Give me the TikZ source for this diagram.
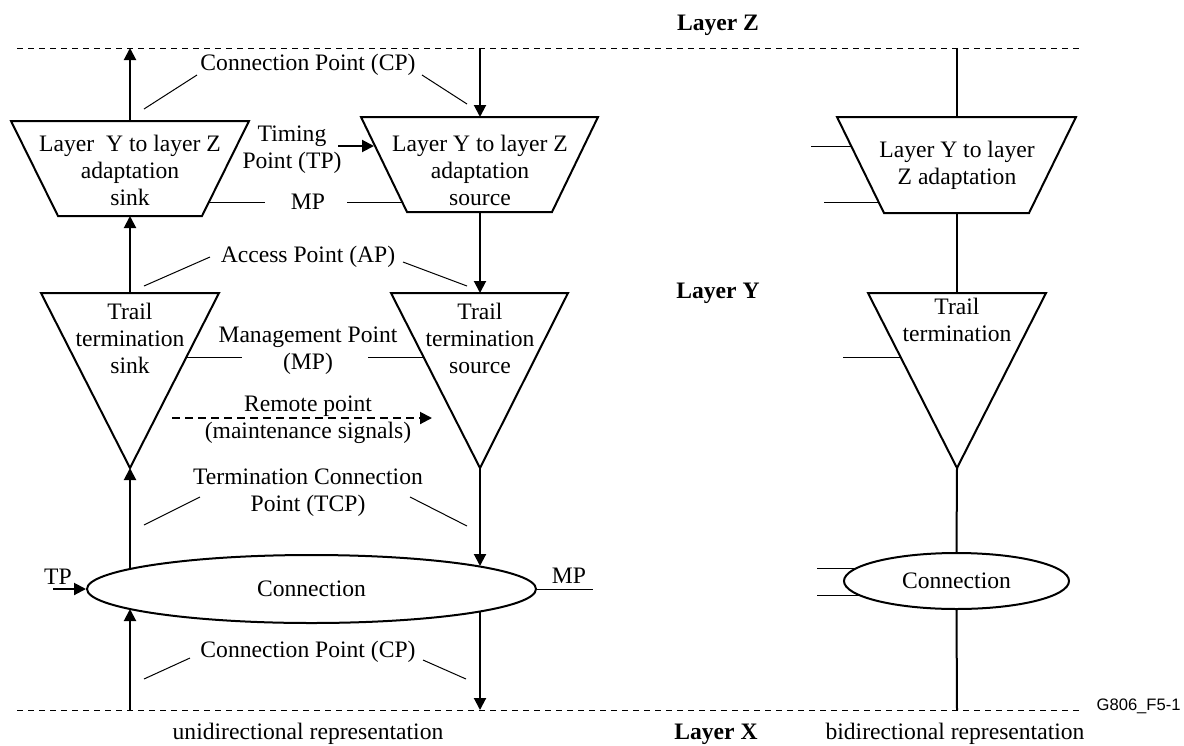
\documentclass[tikz,border=0pt]{standalone}
\usepackage{fontspec}
\setmainfont{Liberation Serif}
\newfontfamily\labsans{Liberation Sans}
\usetikzlibrary{arrows.meta,shapes.geometric}
\begin{document}
\begin{tikzpicture}[x=0.5pt,y=-0.5pt,
  shapeline/.style={line width=1pt, line join=miter},
  flow/.style={line width=1pt, -{Triangle[length=6pt,width=6pt]}},
  plainlink/.style={line width=1pt},
  leader/.style={line width=0.5pt},
  layerline/.style={line width=0.5pt, dash pattern=on 3pt off 2.5pt},
  remote/.style={line width=1pt, dash pattern=on 4pt off 2.5pt, -{Triangle[length=6pt,width=6pt]}},
  lbl/.style={font=\fontsize{11.8}{13.5}\selectfont, inner sep=0pt, align=center},
  layerlbl/.style={font=\fontsize{11.8}{13.5}\selectfont\bfseries, inner sep=0pt},
  connell/.style={draw, ellipse, line width=1pt, inner sep=0pt, font=\fontsize{11.8}{13.5}\selectfont}
]
\useasboundingbox (0,0) rectangle (1184,745);

% layer boundaries
\coordinate (zL) at (17,48);  \coordinate (zR) at (1079,48);
\coordinate (xL) at (17,710); \coordinate (xR) at (1079,710);
\draw[layerline] (zL) -- (zR);
\draw[layerline] (xL) -- (xR);
\node[layerlbl] (layZ) at (718,25) {Layer Z};
\node[layerlbl] (layY) at (718,293) {Layer Y};
\node[layerlbl,anchor=base] (layX) at (716,739) {Layer X};

% ---------- unidirectional: sink column ----------
\coordinate (sa1) at (11,121); \coordinate (sa2) at (249,121);
\coordinate (sa3) at (202,216); \coordinate (sa4) at (58,216);
\draw[shapeline] (sa1) -- (sa2) -- (sa3) -- (sa4) -- cycle;
\node[lbl] (sinkA) at (130,170) {Layer~ Y to layer Z\\adaptation\\sink};

\coordinate (st1) at (41,293); \coordinate (st2) at (219,293); \coordinate (stA) at (130,468);
\draw[shapeline] (st1) -- (st2) -- (stA) -- cycle;
\node[lbl] (sinkT) at (130,338) {Trail\\termination\\sink};

% ---------- unidirectional: source column ----------
\coordinate (ra1) at (361,117); \coordinate (ra2) at (598,117);
\coordinate (ra3) at (552,212); \coordinate (ra4) at (407,212);
\draw[shapeline] (ra1) -- (ra2) -- (ra3) -- (ra4) -- cycle;
\node[lbl] (srcA) at (480,170) {Layer Y to layer Z\\adaptation\\source};

\coordinate (rt1) at (391,293); \coordinate (rt2) at (568,293); \coordinate (rtA) at (480,468);
\draw[shapeline] (rt1) -- (rt2) -- (rtA) -- cycle;
\node[lbl] (srcT) at (480,338) {Trail\\termination\\source};

% connection (unidirectional)
\node[connell, minimum width=224.5pt, minimum height=34pt] (conn) at (311.5,589) {Connection};

% vertical flows
\coordinate (sZ) at (130,48);   \coordinate (saT) at (130,121);
\coordinate (saB) at (130,216); \coordinate (stT) at (130,293);
\coordinate (cnL1) at (130,569); \coordinate (cnL2) at (130,609);
\coordinate (sX) at (130,710);
\draw[flow] (saT) -- (sZ);
\draw[flow] (stT) -- (saB);
\draw[flow] (cnL1) -- (stA);
\draw[flow] (sX) -- (cnL2);

\coordinate (rZ) at (480,48);   \coordinate (raT) at (480,117);
\coordinate (raB) at (480,212); \coordinate (rtT) at (480,293);
\coordinate (cnR1) at (480,566); \coordinate (cnR2) at (480,612);
\coordinate (rX) at (480,710);
\draw[flow] (rZ) -- (raT);
\draw[flow] (raB) -- (rtT);
\draw[flow] (rtA) -- (cnR1);
\draw[flow] (cnR2) -- (rX);

% labels between columns
\node[lbl] (cpTop) at (308,65) {Connection Point (CP)};
\draw[leader] (144,109) -- (197,75);
\draw[leader] (422,75) -- (467,104);

\node[lbl] (tpTop) at (292,150) {Timing\\Point (TP)};
\coordinate (tpS) at (338,146); \coordinate (tpE) at (374,146);
\draw[flow] (tpS) -- (tpE);

\node[lbl] (mpTop) at (308,202) {MP};
\draw[leader] (209,202) -- (265,202);
\draw[leader] (347,202) -- (402,202);

\node[lbl] (apLbl) at (308,257) {Access Point (AP)};
\draw[leader] (144,286) -- (210,257);
\draw[leader] (403,262) -- (467,286);

\node[lbl] (mpMid) at (308,351) {Management Point\\(MP)};
\draw[leader] (187,357) -- (242,357);
\draw[leader] (368,357) -- (423,357);

\node[lbl] (remA) at (308,406) {Remote point};
\node[lbl] (remB) at (308,433) {(maintenance signals)};
\coordinate (remS) at (172,418); \coordinate (remE) at (432,418);
\draw[remote] (remS) -- (remE);

\node[lbl] (tcpLbl) at (308,493) {Termination Connection\\Point (TCP)};
\draw[leader] (144,525) -- (200,497);
\draw[leader] (410,497) -- (467,526);

\node[lbl] (tpLow) at (58,577) {TP};
\coordinate (tpLS) at (53,589);
\draw[flow] (tpLS) -- (conn.west);

\node[lbl] (mpLow) at (569,576) {MP};
\coordinate (mpLE) at (593,589);
\draw[leader] (conn.east) -- (mpLE);

\node[lbl] (cpLow) at (308,652) {Connection Point (CP)};
\draw[leader] (144,679) -- (190,658);
\draw[leader] (423,660) -- (466,679);

\node[lbl,anchor=base] (uniLbl) at (308,739) {unidirectional representation};

% ---------- bidirectional ----------
\coordinate (ba1) at (837,117); \coordinate (ba2) at (1076,117);
\coordinate (ba3) at (1029,213); \coordinate (ba4) at (884,213);
\draw[shapeline] (ba1) -- (ba2) -- (ba3) -- (ba4) -- cycle;
\node[lbl] (biA) at (957,165) {Layer Y to layer\\Z adaptation};

\coordinate (bt1) at (868,293); \coordinate (bt2) at (1046,293); \coordinate (btA) at (957,468);
\draw[shapeline] (bt1) -- (bt2) -- (btA) -- cycle;
\node[lbl] (biT) at (957,320) {Trail\\termination};

\node[connell, minimum width=112.5pt, minimum height=28pt] (biC) at (956.5,581) {Connection};

\coordinate (bZ) at (957,48);   \coordinate (baT) at (957,117);
\coordinate (baB) at (957,213); \coordinate (btT) at (957,293);
\coordinate (bX) at (957,710);
\draw[plainlink] (bZ) -- (baT);
\draw[plainlink] (baB) -- (btT);
\draw[plainlink] (btA) -- (biC.north);
\draw[plainlink] (biC.south) -- (bX);

\draw[leader] (811,146) -- (851,146);
\draw[leader] (824,202) -- (879,202);
\draw[leader] (843,357) -- (900,357);
\draw[leader] (817,568) -- (857,568);
\draw[leader] (817,595) -- (859,595);

\node[lbl,anchor=base] (biLbl) at (955,739) {bidirectional representation};
\node[inner sep=0pt, anchor=east, font=\labsans\fontsize{8.3}{10}\selectfont] (figid) at (1181,706) {G806\_F5-1};
\end{tikzpicture}
\end{document}
